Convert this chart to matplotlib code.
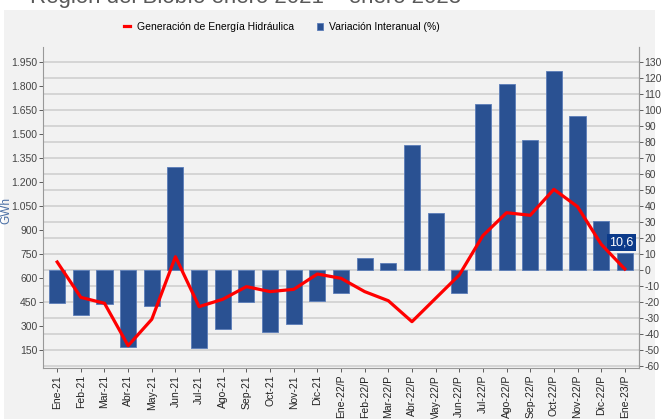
import matplotlib.pyplot as plt
from matplotlib.ticker import FuncFormatter

plt.rcParams['font.family'] = ['Liberation Sans', 'DejaVu Sans']
plt.rcParams['axes.unicode_minus'] = False

meses = ['Ene-21', 'Feb-21', 'Mar-21', 'Abr-21', 'May-21', 'Jun-21', 'Jul-21',
         'Ago-21', 'Sep-21', 'Oct-21', 'Nov-21', 'Dic-21', 'Ene-22/P',
         'Feb-22/P', 'Mar-22/P', 'Abr-22/P', 'May-22/P', 'Jun-22/P', 'Jul-22/P',
         'Ago-22/P', 'Sep-22/P', 'Oct-22/P', 'Nov-22/P', 'Dic-22/P', 'Ene-23/P']

# generacion hidraulica (GWh), eje izquierdo
generacion = [700, 479, 442, 177, 342, 733, 421, 467, 546, 515, 529, 625, 598,
              515, 458, 327, 473, 619, 865, 1008, 992, 1154, 1046, 811, 656]

# variacion interanual (%), eje derecho
variacion = [-20.8, -28.0, -21.0, -48.3, -22.3, 64.4, -49.0, -36.7, -20.2,
             -39.0, -33.8, -19.4, -14.2, 7.7, 4.4, 78.0, 35.4, -14.6, 104.0,
             116.0, 81.0, 124.4, 96.0, 30.4, 10.6]

BG = '#f2f2f2'
AZUL = '#2a5192'
ROJO = '#ff0000'

fig = plt.figure(figsize=(6.61, 4.19), dpi=100, facecolor='white')
fig.patches.append(plt.Rectangle((4 / 661, 0), 651 / 661, 409 / 419,
                                 transform=fig.transFigure, facecolor=BG,
                                 edgecolor='none', zorder=-10))
fig.text(30 / 661, 411 / 419, 'Región del Biobío enero 2021 – enero 2023',
         fontsize=16, color='#595959', va='bottom', ha='left')

ax1 = fig.add_axes([43 / 661, 51 / 419, 596 / 661, 321 / 419])
ax2 = ax1.twinx()
ax1.set_zorder(ax2.get_zorder() + 1)
ax1.patch.set_visible(False)
ax2.patch.set_facecolor(BG)

x = list(range(len(meses)))

ax2.bar(x, variacion, width=0.68, color=AZUL, edgecolor='#5b7db8',
        linewidth=0.6, zorder=3, label='Variación Interanual (%)')
ax2.set_ylim(-61.25, 139.4)
ax2.set_yticks(range(-60, 131, 10))
ax2.grid(axis='y', color='#d0d0d0', linewidth=1.2, zorder=0)
ax2.set_axisbelow(True)

ax1.plot(x, generacion, color=ROJO, linewidth=2.3, zorder=5,
         label='Generación de Energía Hidráulica')
ax1.set_ylim(37.5, 2043.75)
ax1.set_yticks(range(150, 1951, 150))
ax1.yaxis.set_major_formatter(
    FuncFormatter(lambda v, p: f'{int(v):,}'.replace(',', '.')))
ax1.set_xlim(-0.6, len(meses) - 0.4)
ax1.set_xticks(x)
ax1.set_xticklabels(meses, rotation=90, fontsize=7.5, color='#222222')
ax1.set_ylabel('GWh', color='#4a6fa5', fontsize=8.5)
ax1.yaxis.set_label_coords(-0.052, 0.49)

for a in (ax1, ax2):
    a.tick_params(axis='y', labelsize=7.5, colors='#444444', length=3,
                  width=0.6, pad=1)
    a.tick_params(axis='x', length=3, width=0.6, colors='#444444', pad=2)
    for s in a.spines.values():
        s.set_color('#999999')
    a.spines['top'].set_visible(False)
ax2.spines['left'].set_visible(False)
ax2.spines['bottom'].set_visible(False)
for lbl in ax1.get_xticklabels():
    lbl.set_color('#222222')

ax2.text(x[-1] - 0.15, 17.2, '10,6', color='white', fontsize=9,
         ha='center', va='center', zorder=10,
         bbox=dict(boxstyle='square,pad=0.2', facecolor='#0b3a8a',
                   edgecolor='none'))

h1, l1 = ax1.get_legend_handles_labels()
h2, l2 = ax2.get_legend_handles_labels()
fig.legend(h1 + h2, l1 + l2, loc='center', bbox_to_anchor=(282 / 661, 392 / 419),
           ncol=2, frameon=False, fontsize=7.5, handlelength=0.6,
           handletextpad=0.6, columnspacing=2.2)

fig.savefig('out.png', dpi=100, facecolor='white')
